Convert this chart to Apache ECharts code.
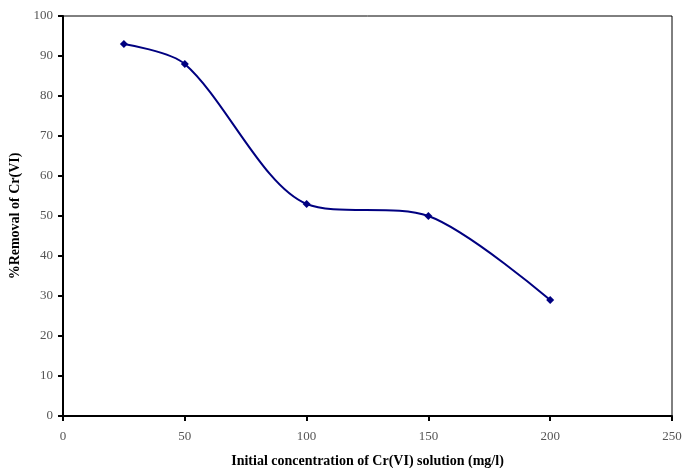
<!DOCTYPE html>
<html>
<head>
<meta charset="utf-8">
<script src="https://cdn.jsdelivr.net/npm/echarts@6/dist/echarts.min.js"></script>
<style>
  html, body { margin: 0; padding: 0; background: #fff; }
  #chart { width: 684px; height: 468px; }
</style>
</head>
<body>
<div id="chart"></div>
<script>
// Initial Cr(VI) concentration (mg/l) and percentage removed
const concentrations = [25, 50, 100, 150, 200];
const removalPercent = [93, 88, 53, 50, 29];

const xTickValues = [0, 50, 100, 150, 200, 250];
const yTickValues = [0, 10, 20, 30, 40, 50, 60, 70, 80, 90, 100];

const serif = '"Liberation Serif", "DejaVu Serif", serif';

const chart = echarts.init(document.getElementById('chart'));
chart.setOption({
  backgroundColor: '#fff',
  animation: false,
  grid: {
    left: 63, right: 12, top: 16, bottom: 52,
    containLabel: false, outerBoundsMode: 'none',
    show: true, borderColor: '#000', borderWidth: 1
  },
  xAxis: {
    type: 'value',
    min: xTickValues[0],
    max: xTickValues[xTickValues.length - 1],
    interval: 50,
    name: 'Initial concentration of Cr(VI) solution (mg/l)',
    nameLocation: 'middle',
    nameGap: 38,
    nameTextStyle: { fontFamily: serif, fontWeight: 'bold', fontSize: 14, color: '#000' },
    axisLine: { onZero: false, lineStyle: { color: '#000', width: 2 } },
    axisTick: { show: true, length: 5, lineStyle: { color: '#000', width: 2 } },
    axisLabel: { fontFamily: serif, fontSize: 13, color: '#555', margin: 14 },
    splitLine: { show: false }
  },
  yAxis: {
    type: 'value',
    min: yTickValues[0],
    max: yTickValues[yTickValues.length - 1],
    interval: 10,
    name: '%Removal of Cr(VI)',
    nameLocation: 'middle',
    nameGap: 40,
    nameTextStyle: { fontFamily: serif, fontWeight: 'bold', fontSize: 14, color: '#000' },
    axisLine: { onZero: false, lineStyle: { color: '#000', width: 2 } },
    axisTick: { show: true, length: 5, lineStyle: { color: '#000', width: 2 } },
    axisLabel: { fontFamily: serif, fontSize: 13, color: '#555', margin: 10 },
    splitLine: { show: false }
  },
  series: [{
    type: 'line',
    data: concentrations.map((c, i) => [c, removalPercent[i]]),
    smooth: 0.3,
    symbol: 'diamond',
    symbolSize: 8,
    lineStyle: { color: '#000080', width: 2 },
    itemStyle: { color: '#000080' }
  }]
});
</script>
</body>
</html>
